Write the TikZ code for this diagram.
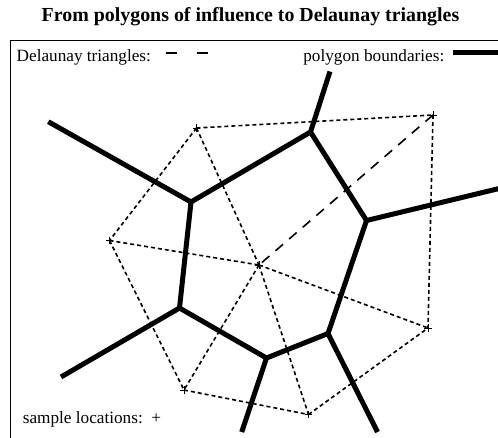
\documentclass[tikz,border=0pt]{standalone}
\usepackage{fontspec}
\setmainfont{Liberation Serif}
\usetikzlibrary{positioning}

\begin{document}
\begin{tikzpicture}[
  x=1pt, y=-1pt,
  legend/.style={font=\fontsize{17.2}{20}\selectfont, inner sep=0pt},
  frame/.style={line width=1pt},
  cell/.style={line width=5pt, line join=round},
  tri/.style={line width=1.6pt, dash pattern=on 4pt off 3pt},
  trilong/.style={line width=1.6pt, dash pattern=on 10pt off 8pt},
  keydash/.style={line width=2.6pt, dash pattern=on 11pt off 20pt},
  site/.style={line width=0.9pt},
]

\def\siteR{3.8}

\useasboundingbox (0,0) rectangle (498,437);

% ---------- title ----------
\node[font=\bfseries\fontsize{19.9}{22}\selectfont, inner sep=0pt, anchor=base] (title) at (250.5,21)
  {From polygons of influence to Delaunay triangles};

\begin{scope}
\clip (0,0) rectangle (498,437);
\draw[frame] (10,40) rectangle (520,460);

% ---------- legend ----------
\node[legend, anchor=base west] (keytri) at (16.5,61) {Delaunay triangles:};
\draw[keydash] ([shift={(14.5,-8)}]keytri.base east) -- ++(44,0);
\node[legend, anchor=base east] (keycell) at (444.5,61) {polygon boundaries:};
\draw[line width=4.8pt] ([shift={(8.5,-8.5)}]keycell.base east) -- ++(46,0);
\node[legend, anchor=base west] (keysite) at (22.7,423) {sample locations:\, +};

% ---------- sample locations ----------
\coordinate (tl) at (196.5,128);
\coordinate (tr) at (433,115);
\coordinate (l)  at (109.5,240.5);
\coordinate (c)  at (259,265);
\coordinate (r)  at (428,328);
\coordinate (bl) at (184,390);
\coordinate (b)  at (308.5,414.5);

% ---------- Delaunay triangles ----------
\draw[tri] (tl) -- (tr);
\draw[tri] (tr) -- (r);
\draw[trilong] (tr) -- (c);
\draw[tri] (tl) -- (l);
\draw[tri] (tl) -- (c);
\draw[tri] (l) -- (c);
\draw[tri] (l) -- (bl);
\draw[tri] (c) -- (bl);
\draw[tri] (c) -- (b);
\draw[tri] (c) -- (r);
\draw[tri] (bl) -- (b);
\draw[tri] (b) -- (r);

\foreach \s in {tl,tr,l,c,r,bl,b}
  \draw[site] (\s) ++(-\siteR,0) -- ++(2*\siteR,0) (\s) ++(0,-\siteR) -- ++(0,2*\siteR);

% ---------- polygon boundaries ----------
\coordinate (v1) at (191,202);
\coordinate (v2) at (310.5,132);
\coordinate (v3) at (366.5,220.5);
\coordinate (v4) at (179.5,308);
\coordinate (v5) at (266.5,358);
\coordinate (v6) at (328,333.5);

\coordinate (e1) at (48.3,121.7);
\coordinate (e2) at (330,71.5);
\coordinate (e3) at (500,188.3);
\coordinate (e4) at (61,377);
\coordinate (e5) at (241.7,432);
\coordinate (e6) at (377.5,432);

\draw[cell] (e1) -- (v1) -- (v2) -- (e2);
\draw[cell] (v2) -- (v3) -- (e3);
\draw[cell] (v1) -- (v4) -- (e4);
\draw[cell] (v4) -- (v5) -- (e5);
\draw[cell] (v5) -- (v6) -- (e6);
\draw[cell] (v6) -- (v3);
\end{scope}

\end{tikzpicture}
\end{document}
